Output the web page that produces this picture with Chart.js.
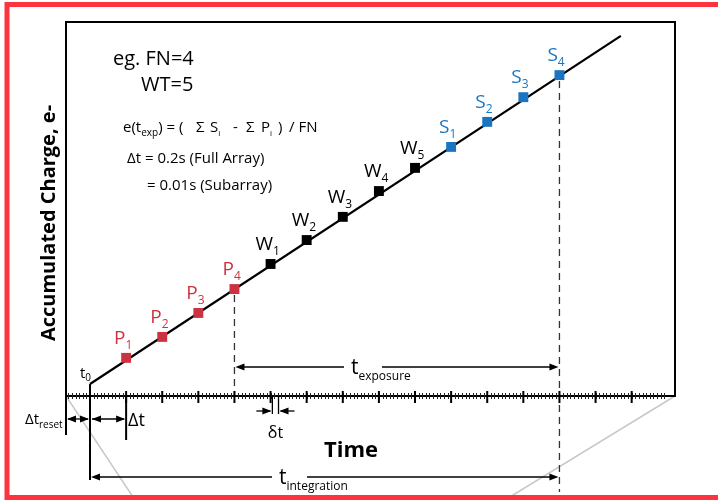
<!DOCTYPE html>
<html>
<head>
<meta charset="utf-8">
<script src="https://cdn.jsdelivr.net/npm/chart.js@4.4.1/dist/chart.umd.min.js"></script>
<style>
  html, body { margin: 0; padding: 0; background: #fff; }
  canvas { display: block; }
</style>
</head>
<body>
<canvas id="chart" width="718" height="500"></canvas>
<script>
// reads along the ramp, x = frame number after reset (t0 = 0)
const readFrames = [1, 2, 3, 4, 5, 6, 7, 8, 9, 10, 11, 12, 13];
const readGroup = ['P', 'P', 'P', 'P', 'W', 'W', 'W', 'W', 'W', 'S', 'S', 'S', 'S'];
const readIndex = ['1', '2', '3', '4', '1', '2', '3', '4', '5', '1', '2', '3', '4'];
const readCharge = [10.2, 15.8, 22.2, 28.6, 35.3, 41.7, 47.9, 54.8, 61.0, 66.6, 73.3, 79.9, 85.8];

// accumulated charge ramp
const rampFrames = [0, 14.7];
const rampCharge = [3.2, 96.3];

// time axis ticks (frames)
const majorTicks = [0, 1, 2, 3, 4, 5, 6, 7, 8, 9, 10, 11, 12, 13, 14, 15];
const minorStep = 0.1;

const groupColor = { P: '#cc3340', W: '#000000', S: '#1a74c0' };
const FONT = '"Open Sans", "Noto Sans", sans-serif';

function pts(group) {
  const out = [];
  for (let i = 0; i < readFrames.length; i++) {
    if (readGroup[i] == group) out.push({ x: readFrames[i], y: readCharge[i], name: group, sub: readIndex[i] });
  }
  return out;
}

// draw text with a subscript, returns end x
function subText(ctx, main, sub, x, y, size, subSize, color, drop, bold) {
  ctx.fillStyle = color;
  ctx.font = (bold ? 'bold ' : '') + size + 'px ' + FONT;
  ctx.textAlign = 'left';
  ctx.textBaseline = 'alphabetic';
  ctx.fillText(main, x, y);
  let w = ctx.measureText(main).width;
  ctx.font = subSize + 'px ' + FONT;
  ctx.fillText(sub, x + w, y + drop);
  return x + w + ctx.measureText(sub).width;
}

function arrowHead(ctx, x, y, dir) {
  ctx.beginPath();
  ctx.moveTo(x, y);
  ctx.lineTo(x - dir * 9, y - 3.5);
  ctx.lineTo(x - dir * 9, y + 3.5);
  ctx.closePath();
  ctx.fill();
}

function hline(ctx, x1, x2, y) {
  ctx.beginPath();
  ctx.moveTo(x1, y);
  ctx.lineTo(x2, y);
  ctx.stroke();
}

function vline(ctx, x, y1, y2) {
  ctx.beginPath();
  ctx.moveTo(x, y1);
  ctx.lineTo(x, y2);
  ctx.stroke();
}

const diagram = {
  id: 'diagram',
  beforeDatasetsDraw(chart) {
    const ctx = chart.ctx;
    const xs = chart.scales.x, ys = chart.scales.y;
    const a = chart.chartArea;
    ctx.save();
    // zoom guide lines
    ctx.strokeStyle = '#c8c8c8';
    ctx.lineWidth = 1.5;
    ctx.beginPath();
    ctx.moveTo(a.left, a.bottom);
    ctx.lineTo(135, 500);
    ctx.moveTo(a.right, a.bottom);
    ctx.lineTo(505, 500);
    ctx.stroke();

    // dashed guides from P4 and S4
    ctx.strokeStyle = '#333';
    ctx.lineWidth = 1.3;
    ctx.setLineDash([7, 5]);
    vline(ctx, xs.getPixelForValue(readFrames[3]), ys.getPixelForValue(readCharge[3]) + 6, a.bottom);
    vline(ctx, xs.getPixelForValue(readFrames[12]), ys.getPixelForValue(readCharge[12]) + 6, 492);
    ctx.setLineDash([]);
    ctx.restore();
  },
  afterDraw(chart) {
    const ctx = chart.ctx;
    const xs = chart.scales.x, ys = chart.scales.y;
    const a = chart.chartArea;
    const t0 = xs.getPixelForValue(0);
    const t1 = xs.getPixelForValue(1);
    ctx.save();

    // frame
    ctx.strokeStyle = '#000';
    ctx.lineWidth = 2;
    ctx.beginPath();
    ctx.moveTo(a.left, 435);
    ctx.lineTo(a.left, a.top);
    ctx.lineTo(a.right, a.top);
    ctx.lineTo(a.right, a.bottom);
    ctx.lineTo(a.left, a.bottom);
    ctx.stroke();

    // ticks
    ctx.lineWidth = 1;
    ctx.strokeStyle = '#222';
    for (let v = -0.6; v < 15.95; v += minorStep) {
      const x = Math.round(xs.getPixelForValue(v)) + 0.5;
      vline(ctx, x, a.bottom - 3, a.bottom + 3);
    }
    ctx.strokeStyle = '#000';
    ctx.lineWidth = 2;
    majorTicks.forEach(v => {
      vline(ctx, xs.getPixelForValue(v), a.bottom - 5, a.bottom + 7);
    });
    // t0 and delta-t guide lines
    vline(ctx, t0, ys.getPixelForValue(rampCharge[0]), 480);
    vline(ctx, t1, a.bottom, 440);

    // reset / delta t arrows
    ctx.lineWidth = 1.3;
    ctx.fillStyle = '#000';
    hline(ctx, a.left + 2, t0 - 2, 419);
    arrowHead(ctx, a.left + 1, 419, -1);
    arrowHead(ctx, t0 - 1, 419, 1);
    hline(ctx, t0 + 2, t1 - 2, 419);
    arrowHead(ctx, t0 + 2, 419, -1);
    arrowHead(ctx, t1 - 1, 419, 1);
    subText(ctx, '\u0394t', 'reset', 25, 424, 15, 10, '#000', 4);
    ctx.font = '18px ' + FONT;
    ctx.fillText('\u0394t', t1 + 2, 426);

    // delta-t small
    const d1 = xs.getPixelForValue(5.05), d2 = xs.getPixelForValue(5.22);
    ctx.lineWidth = 1.3;
    vline(ctx, d1, a.bottom, 414);
    vline(ctx, d2, a.bottom, 414);
    hline(ctx, d1 - 16, d1 - 2, 411);
    arrowHead(ctx, d1 - 1, 411, 1);
    hline(ctx, d2 + 2, d2 + 16, 411);
    arrowHead(ctx, d2 + 1, 411, -1);
    ctx.font = '16px ' + FONT;
    ctx.textAlign = 'center';
    ctx.fillText('\u03b4t', (d1 + d2) / 2, 438);

    // exposure arrow
    const xp4 = xs.getPixelForValue(readFrames[3]);
    const xs4 = xs.getPixelForValue(readFrames[12]);
    ctx.lineWidth = 1.6;
    hline(ctx, xp4 + 4, 344, 367);
    arrowHead(ctx, xp4 + 1, 367, -1);
    hline(ctx, 382, xs4 - 4, 367);
    arrowHead(ctx, xs4 - 1, 367, 1);
    subText(ctx, 't', 'exposure', 351, 374, 21, 12, '#000', 6);

    // integration arrow
    hline(ctx, t0 + 4, 272, 477);
    arrowHead(ctx, t0 + 1, 477, -1);
    hline(ctx, 307, xs4 - 4, 477);
    arrowHead(ctx, xs4 - 1, 477, 1);
    subText(ctx, 't', 'integration', 279, 484, 21, 12, '#000', 6);

    // axis titles
    ctx.fillStyle = '#000';
    ctx.font = 'bold 22px ' + FONT;
    ctx.textAlign = 'center';
    ctx.fillText('Time', 351, 457);
    ctx.save();
    ctx.translate(55, 223);
    ctx.rotate(-Math.PI / 2);
    ctx.font = 'bold 20px ' + FONT;
    ctx.fillText('Accumulated Charge, e-', 0, 0);
    ctx.restore();

    // t0 label
    subText(ctx, 't', '0', 80, 378, 15, 10, '#000', 3);

    // read labels
    chart.data.datasets.forEach(ds => {
      if (!ds.reads) return;
      ds.data.forEach(p => {
        const x = xs.getPixelForValue(p.x), y = ys.getPixelForValue(p.y);
        const off = p.name == 'W' ? 15 : 12;
        subText(ctx, p.name, p.sub, x - off, y - 14, 19, 12, groupColor[p.name], 5);
      });
    });

    // notes
    ctx.textAlign = 'left';
    ctx.fillStyle = '#000';
    ctx.font = '20px ' + FONT;
    ctx.fillText('eg. FN=4', 113, 65);
    ctx.fillText('WT=5', 141, 91);
    // formula, pieces placed like the original spacing
    let fx = subText(ctx, 'e(t', 'exp', 123, 132, 15, 10, '#000', 4);
    ctx.font = '15px ' + FONT;
    ctx.fillText(') = (', fx, 132);
    ctx.fillText('\u03a3', 196, 132);
    subText(ctx, 'S', 'i', 210, 132, 15, 8, '#000', 4);
    ctx.font = '15px ' + FONT;
    ctx.fillText('-', 233, 132);
    ctx.fillText('\u03a3', 246, 132);
    subText(ctx, 'P', 'i', 261, 132, 15, 8, '#000', 4);
    ctx.font = '15px ' + FONT;
    ctx.fillText(')', 278, 132);
    ctx.fillText('/ FN', 289, 132);
    ctx.fillText('\u0394t = 0.2s (Full Array)', 127, 163);
    ctx.fillText('= 0.01s (Subarray)', 147, 190);

    // red outline
    ctx.strokeStyle = '#fd3340';
    ctx.lineWidth = 5;
    ctx.beginPath();
    ctx.moveTo(730, 4.5);
    ctx.lineTo(7, 4.5);
    ctx.lineTo(7, 497.5);
    ctx.lineTo(730, 497.5);
    ctx.stroke();
    ctx.restore();
  }
};

function readSet(group, color) {
  return {
    data: pts(group),
    reads: true,
    showLine: false,
    pointStyle: 'rect',
    pointRadius: 7,
    pointBackgroundColor: color,
    pointBorderWidth: 0,
    order: 1
  };
}

new Chart(document.getElementById('chart'), {
  type: 'scatter',
  data: {
    datasets: [
      readSet('P', groupColor.P),
      readSet('W', groupColor.W),
      readSet('S', groupColor.S),
      {
        data: rampFrames.map((f, i) => ({ x: f, y: rampCharge[i] })),
        showLine: true,
        borderColor: '#000',
        borderWidth: 2.2,
        pointRadius: 0,
        order: 2
      }
    ]
  },
  options: {
    responsive: false,
    animation: false,
    events: [],
    layout: { padding: { left: 66, top: 22, right: 43, bottom: 104 } },
    plugins: { legend: { display: false }, tooltip: { enabled: false } },
    scales: {
      x: { type: 'linear', display: false, min: -0.665, max: 16.2 },
      y: { type: 'linear', display: false, min: 0, max: 100 }
    }
  },
  plugins: [diagram]
});
</script>
</body>
</html>
